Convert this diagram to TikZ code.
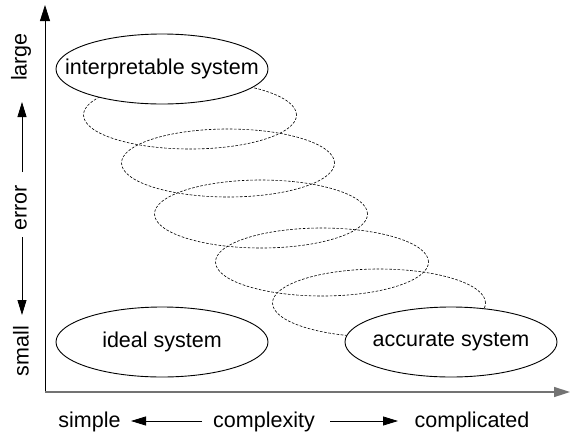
\documentclass[tikz,border=0pt]{standalone}
\usepackage{fontspec}
\setmainfont{Liberation Sans}
\usetikzlibrary{shapes.geometric,arrows.meta}
\begin{document}
\begin{tikzpicture}[x=1pt,y=-1pt,
  lbl/.style={font=\fontsize{21.5}{24}\selectfont, inner sep=0pt},
  sysell/.style={ellipse, draw=black, line width=0.9pt, fill=white,
    minimum width=212pt, minimum height=70pt, inner sep=0pt},
  dashell/.style={ellipse, draw=black, line width=0.6pt,
    dash pattern=on 2.6pt off 1.6pt,
    minimum width=213pt, minimum height=68pt, inner sep=0pt},
  axisarrow/.style={-{Triangle[length=16pt,width=10pt]}},
  lblarrow/.style={line width=0.8pt,-{Triangle[length=15pt,width=9pt]}}]
\useasboundingbox (0,0) rectangle (570,437);
% dashed intermediate ellipses
\node[dashell] (d1) at (190,115) {};
\node[dashell] (d2) at (228,163) {};
\node[dashell] (d3) at (261,214) {};
\node[dashell] (d4) at (322,262) {};
\node[dashell] (d5) at (379,303) {};
% solid systems
\node[sysell] (interp) at (162,69) {};
\node[sysell] (ideal) at (162,342) {};
\node[sysell] (accur) at (451,342) {};
\node[lbl] (interpT) at (interp.center) {interpretable system};
\node[lbl] (idealT) at (ideal.center) {ideal system};
\node[lbl] (accurT) at (accur.center) {accurate system};
% axes
\coordinate (O) at (45,392);
\coordinate (ytop) at (45,5);
\coordinate (xend) at (570,392);
\draw[axisarrow, line width=0.8pt, draw=black] (O) -- (ytop);
\draw[axisarrow, line width=1.5pt, draw=black!55, fill=black] (O) -- (xend);
% vertical labels
\node[lbl, rotate=90] (large) at (21,57) {large};
\node[lbl, rotate=90] (error) at (21,208) {error};
\node[lbl, rotate=90] (small) at (21,351) {small};
\coordinate (upS) at (22,172);
\coordinate (upT) at (22,102);
\coordinate (dnS) at (22,237);
\coordinate (dnT) at (22,315);
\draw[lblarrow] (upS) -- (upT);
\draw[lblarrow] (dnS) -- (dnT);
% horizontal labels
\node[lbl, anchor=base] (simple) at (89.5,427) {simple};
\node[lbl, anchor=base] (cplx) at (264,427) {complexity};
\node[lbl, anchor=base] (compl) at (472,427) {complicated};
\coordinate (lS) at (202,421);
\coordinate (lT) at (131,421);
\coordinate (rS) at (330,421);
\coordinate (rT) at (398,421);
\draw[lblarrow] (lS) -- (lT);
\draw[lblarrow] (rS) -- (rT);
\end{tikzpicture}
\end{document}
